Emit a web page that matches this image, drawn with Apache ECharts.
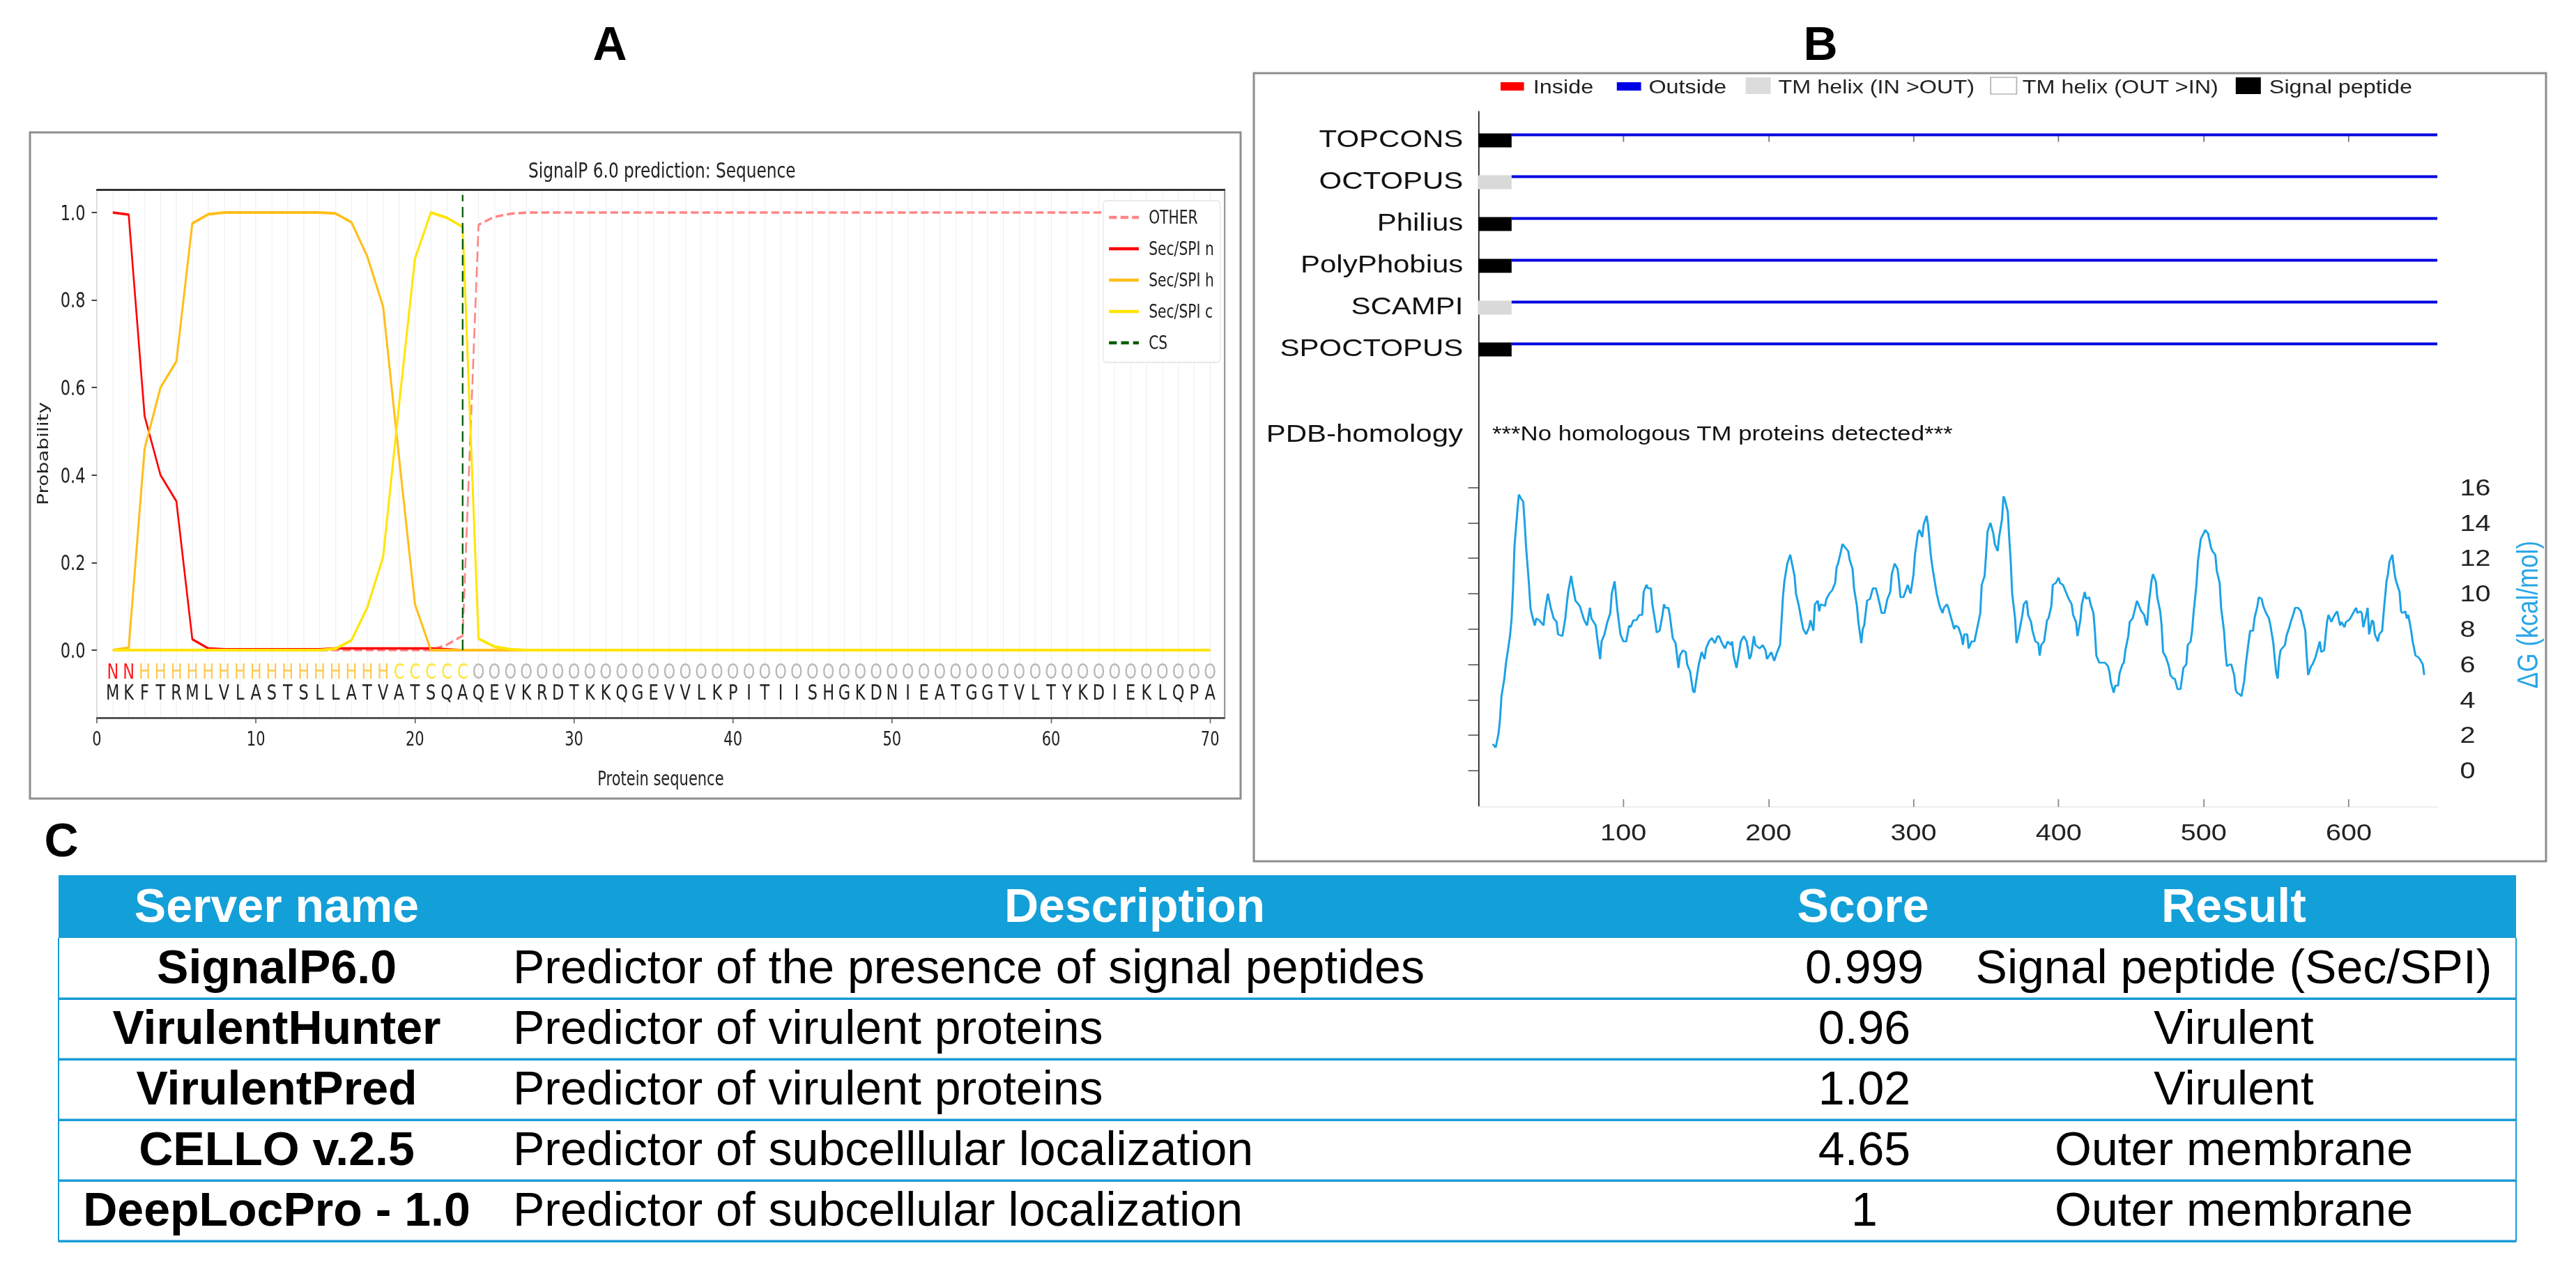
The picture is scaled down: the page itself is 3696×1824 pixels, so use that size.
<!DOCTYPE html>
<html>
<head>
<meta charset="utf-8">
<script src="https://cdn.jsdelivr.net/npm/echarts/dist/echarts.min.js"></script>
<style>
  html, body { margin: 0; padding: 0; background: #ffffff; }
  #main { position: absolute; left: 0; top: 0; width: 3696px; height: 1824px; }
  #pa { position: absolute; left: 43px; top: 190px; width: 2316px; height: 956px; transform: scale(0.75, 1); transform-origin: 0 0; }
  #pb { position: absolute; left: 1799px; top: 105px; width: 1545px; height: 1131px; transform: scale(1.2, 1); transform-origin: 0 0; }
</style>
</head>
<body>
<div id="main"></div>
<div id="pa"></div>
<div id="pb"></div>
<script>
// ---------------- DATA : panel A (SignalP 6.0) ----------------
const positions = [1,2,3,4,5,6,7,8,9,10,11,12,13,14,15,16,17,18,19,20,21,22,23,24,25,26,27,28,29,30,31,32,33,34,35,36,37,38,39,40,41,42,43,44,45,46,47,48,49,50,51,52,53,54,55,56,57,58,59,60,61,62,63,64,65,66,67,68,69,70];
const probOther = [0,0,0,0,0,0,0,0,0,0,0,0,0,0,0,0,0,0,0,0,0,0.012,0.033,0.972,0.99,0.997,1,1,1,1,1,1,1,1,1,1,1,1,1,1,1,1,1,1,1,1,1,1,1,1,1,1,1,1,1,1,1,1,1,1,1,1,1,1,1,1,1,1,1,1];
const probSecN  = [1.0,0.995,0.535,0.40,0.34,0.025,0.004,0.002,0.002,0.002,0.002,0.002,0.002,0.002,0.004,0.004,0.004,0.004,0.004,0.004,0.004,0.002,0,0,0,0,0,0,0,0,0,0,0,0,0,0,0,0,0,0,0,0,0,0,0,0,0,0,0,0,0,0,0,0,0,0,0,0,0,0,0,0,0,0,0,0,0,0,0,0];
const probSecH  = [0,0.005,0.46,0.60,0.66,0.975,0.996,1,1,1,1,1,1,1,0.998,0.978,0.90,0.785,0.44,0.105,0,0,0,0,0,0,0,0,0,0,0,0,0,0,0,0,0,0,0,0,0,0,0,0,0,0,0,0,0,0,0,0,0,0,0,0,0,0,0,0,0,0,0,0,0,0,0,0,0,0];
const probSecC  = [0,0,0,0,0,0,0,0,0,0,0,0,0,0,0.003,0.022,0.097,0.213,0.56,0.894,1.0,0.988,0.967,0.026,0.008,0.002,0,0,0,0,0,0,0,0,0,0,0,0,0,0,0,0,0,0,0,0,0,0,0,0,0,0,0,0,0,0,0,0,0,0,0,0,0,0,0,0,0,0,0,0];
const cleavageSite = 23;
const annotation = "NNHHHHHHHHHHHHHHHHCCCCCOOOOOOOOOOOOOOOOOOOOOOOOOOOOOOOOOOOOOOOOOOOOOOO";
const sequence   = "MKFTRMLVLASTSLLATVATSQAQEVKRDTKKQGEVVLKPITIISHGKDNIEATGGTVLTYKDIEKLQPA";
const seqTicks = [0,10,20,30,40,50,60,70];
const probTicks = [0,0.2,0.4,0.6,0.8,1.0];
const seriesNamesA = ['OTHER','Sec/SPI n','Sec/SPI h','Sec/SPI c','CS'];

// ---------------- DATA : panel B (TOPCONS) ----------------
const methods = ['TOPCONS','OCTOPUS','Philius','PolyPhobius','SCAMPI','SPOCTOPUS'];
const nTermFeature = ['signal','tmInOut','signal','signal','tmInOut','signal'];
const nTermEnd = [23,23,23,23,23,23];
const proteinLength = 661;
const residueTicks = [100,200,300,400,500,600];
const dgTicks = [0,2,4,6,8,10,12,14,16];
const legendB = ['Inside','Outside','TM helix (IN >OUT)','TM helix (OUT >IN)','Signal peptide'];
const dgProfile = [[10,1.5],[12,1.3],[14,2.1],[15,2.9],[16,4.2],[18,5.2],[19,6.0],[21,7.1],[22,7.7],[23,8.6],[24,10.3],[25,12.7],[27,14.7],[28,15.6],[30,15.3],[31,15.2],[32,14.0],[33,12.6],[35,10.5],[36,9.2],[37,8.8],[39,8.2],[40,8.6],[42,8.5],[45,8.2],[46,9.0],[48,10.0],[50,9.2],[52,8.6],[54,8.4],[55,7.7],[58,7.6],[60,8.6],[61,9.4],[62,10.1],[64,11.0],[65,10.5],[67,9.6],[70,9.3],[73,8.5],[75,8.2],[77,9.2],[78,8.6],[81,8.2],[82,7.5],[84,6.3],[85,7.3],[87,7.7],[89,8.4],[91,8.9],[92,10.0],[94,10.7],[96,9.0],[98,7.7],[100,7.3],[102,7.3],[104,8.2],[105,8.1],[107,8.5],[109,8.5],[111,8.8],[113,8.8],[114,10.1],[116,10.5],[117,10.3],[119,10.3],[120,9.4],[122,8.4],[123,7.8],[125,7.9],[127,8.8],[128,9.4],[129,9.2],[131,9.2],[132,8.8],[134,7.5],[136,7.2],[138,5.8],[139,6.5],[141,6.8],[143,6.7],[144,6.0],[146,5.6],[148,4.5],[149,4.4],[151,5.5],[152,6.0],[154,6.7],[156,6.3],[157,6.9],[159,7.3],[161,7.5],[163,7.2],[165,7.6],[166,7.6],[168,7.2],[170,6.9],[172,7.3],[174,7.1],[175,7.3],[176,6.5],[178,5.8],[179,6.3],[181,7.3],[183,7.6],[185,7.3],[187,6.3],[188,6.5],[190,7.6],[191,7.1],[194,6.9],[196,7.1],[198,6.8],[199,6.3],[202,6.7],[204,6.2],[206,6.7],[208,7.1],[209,8.4],[210,9.8],[211,10.7],[213,11.7],[215,12.2],[216,11.8],[218,11.0],[219,10.0],[221,9.3],[223,8.4],[224,8.0],[226,7.7],[228,8.1],[229,8.5],[231,7.9],[232,9.4],[234,9.6],[235,9.0],[236,9.4],[239,9.3],[240,9.7],[242,10.0],[244,10.2],[246,10.6],[247,11.5],[248,11.7],[250,12.4],[251,12.8],[253,12.6],[255,12.4],[256,11.9],[258,11.4],[259,10.3],[261,9.3],[262,8.4],[264,7.2],[265,8.0],[266,8.2],[268,9.6],[270,9.7],[272,10.3],[274,10.3],[275,10.0],[277,9.3],[278,8.9],[280,8.9],[282,9.7],[284,10.1],[285,11.1],[287,11.7],[289,11.4],[290,10.7],[291,9.8],[293,9.8],[294,10.0],[296,10.5],[298,10.0],[300,11.1],[301,12.2],[303,13.4],[304,13.6],[306,13.2],[307,13.9],[309,14.4],[310,13.9],[312,12.1],[313,11.5],[315,10.5],[316,10.0],[318,9.3],[320,8.9],[321,9.2],[323,9.4],[324,9.2],[326,8.6],[328,8.0],[329,8.2],[331,8.1],[333,7.6],[334,7.1],[335,7.7],[337,7.7],[338,6.9],[340,7.3],[342,7.3],[344,8.1],[346,8.9],[347,10.5],[349,11.0],[350,12.2],[351,13.5],[353,14.0],[355,13.4],[356,12.8],[358,12.4],[359,13.2],[361,14.2],[362,15.5],[363,15.3],[365,14.6],[366,13.1],[367,11.8],[368,10.0],[370,8.6],[371,7.2],[372,7.5],[373,7.9],[375,8.8],[376,9.4],[378,9.6],[379,8.8],[381,8.4],[382,7.9],[384,7.3],[386,7.2],[387,6.5],[388,7.1],[390,7.3],[392,8.5],[393,8.6],[395,9.3],[396,10.5],[398,10.6],[400,10.9],[401,10.6],[403,10.5],[405,10.1],[407,9.7],[409,9.4],[410,8.8],[412,8.4],[413,7.6],[415,8.5],[416,9.4],[418,10.1],[419,9.7],[421,9.8],[422,9.4],[424,8.9],[425,7.9],[426,6.5],[428,6.1],[430,6.1],[432,6.1],[434,5.9],[435,5.6],[436,5.0],[438,4.4],[439,4.8],[441,4.8],[442,5.5],[444,6.0],[445,6.1],[446,6.8],[448,7.6],[449,8.4],[451,8.6],[452,8.9],[454,9.6],[455,9.4],[457,9.0],[459,8.8],[460,8.4],[461,8.2],[462,9.3],[464,10.7],[465,11.1],[467,10.7],[468,9.8],[470,9.0],[471,8.2],[472,6.7],[474,6.4],[476,5.9],[477,5.4],[479,5.2],[480,5.2],[482,4.6],[484,4.6],[485,5.2],[486,5.8],[488,6.0],[489,7.1],[491,7.3],[492,7.9],[493,8.9],[495,10.5],[496,11.8],[498,13.1],[500,13.4],[501,13.6],[503,13.4],[505,12.6],[506,12.4],[508,12.2],[509,11.3],[511,10.6],[512,9.2],[514,7.9],[515,6.7],[516,5.9],[518,6.0],[519,6.0],[521,5.4],[522,4.6],[523,4.4],[525,4.3],[526,4.2],[528,5.1],[529,6.0],[531,7.3],[532,7.9],[534,7.9],[535,8.6],[537,9.3],[538,9.8],[540,9.7],[541,9.3],[543,8.9],[545,8.6],[546,8.2],[548,7.2],[549,6.3],[550,5.5],[551,5.2],[552,6.3],[553,6.8],[554,6.9],[556,7.1],[557,7.6],[559,8.1],[560,8.4],[562,8.9],[563,9.2],[565,9.2],[567,9.0],[568,8.6],[570,7.9],[571,6.5],[572,5.4],[574,5.9],[575,6.0],[577,6.4],[578,6.7],[580,7.3],[581,6.7],[583,6.8],[584,7.6],[585,8.4],[586,8.8],[588,8.4],[589,8.6],[591,8.9],[592,9.0],[594,8.2],[595,8.4],[597,8.1],[598,8.4],[600,8.5],[601,8.6],[603,8.9],[605,9.2],[606,8.9],[608,9.0],[609,8.9],[610,8.1],[612,8.8],[613,9.2],[614,7.7],[616,8.5],[617,8.4],[618,7.7],[620,7.3],[621,7.7],[623,7.9],[624,8.9],[626,10.7],[627,11.1],[628,11.8],[630,12.2],[631,11.5],[632,10.9],[633,10.6],[635,10.1],[636,9.0],[637,8.9],[639,9.0],[640,8.6],[641,8.8],[643,7.9],[644,7.3],[646,6.5],[648,6.4],[649,6.3],[651,6.0],[652,5.4]];

// ---------------- DATA : panel C (table) ----------------
const tableHeaders = ['Server name','Description','Score','Result'];
const serverNames = ['SignalP6.0','VirulentHunter','VirulentPred','CELLO v.2.5','DeepLocPro - 1.0'];
const descriptions = ['Predictor of the presence of signal peptides','Predictor of virulent proteins','Predictor of virulent proteins','Predictor of subcelllular localization','Predictor of subcellular localization'];
const scores = ['0.999','0.96','1.02','4.65','1'];
const results = ['Signal peptide (Sec/SPI)','Virulent','Virulent','Outer membrane','Outer membrane'];

// =================================================================
const FA = 'DejaVu Sans';
const FB = 'Liberation Sans, Arial, sans-serif';

// ---------------- Panel A chart ----------------
const pairs = arr => positions.map((p, i) => [p, arr[i]]);
const annotColor = { N: '#ff1a1a', H: '#ffc94d', C: '#ffe433', O: '#b8b8b8' };
const annotY = -0.048, seqY = -0.096;

const chartA = echarts.init(document.getElementById('pa'), null, { renderer: 'svg' });
chartA.setOption({
  animation: false,
  grid: { left: 128, top: 82, width: 2157, height: 758 },
  legend: {
    orient: 'vertical', left: 2053, top: 98,
    padding: [9, 12, 13, 9], itemGap: 15, itemWidth: 57, itemHeight: 14,
    backgroundColor: '#ffffff', borderColor: '#e2e2e2', borderWidth: 1.5, borderRadius: 6,
    itemStyle: { opacity: 0 },
    lineStyle: { width: 4.5 },
    textStyle: { fontFamily: FA, fontSize: 27, color: '#222', lineHeight: 30, padding: [0, 0, 0, 14] },
    data: seriesNamesA
  },
  xAxis: [
    { type: 'value', min: 0, max: 70.9, interval: 10,
      axisLine: { show: true, onZero: false, lineStyle: { color: '#555', width: 3 } },
      axisTick: { show: true, length: 8, customValues: seqTicks, lineStyle: { color: '#555', width: 2 } },
      axisLabel: { customValues: seqTicks, fontFamily: FA, fontSize: 28, color: '#222', margin: 16 },
      splitLine: { show: false },
      name: 'Protein sequence', nameLocation: 'middle', nameGap: 73,
      nameTextStyle: { fontFamily: FA, fontSize: 28, color: '#222' } },
    { type: 'value', position: 'top', min: 0, max: 70.9, interval: 1,
      axisLine: { show: true, onZero: false, lineStyle: { color: '#333', width: 3 } },
      axisTick: { show: false }, axisLabel: { show: false },
      splitLine: { show: true, lineStyle: { color: '#efefef', width: 1.5 } } }
  ],
  yAxis: [
    { type: 'value', min: -0.1545, max: 1.0525,
      axisLine: { show: true, onZero: false, lineStyle: { color: '#d6d6d6', width: 2 } },
      axisTick: { show: true, length: 10, customValues: probTicks, lineStyle: { color: '#444', width: 2 } },
      axisLabel: { customValues: probTicks, formatter: v => v.toFixed(1), fontFamily: FA, fontSize: 30, color: '#222', margin: 22 },
      splitLine: { show: false },
      name: 'Probability', nameLocation: 'middle', nameGap: 89, nameRotate: 90,
      nameTextStyle: { fontFamily: FA, fontSize: 28, color: '#222' } },
    { type: 'value', position: 'right', min: -0.1545, max: 1.0525,
      axisLine: { show: true, onZero: false, lineStyle: { color: '#999', width: 3 } },
      axisTick: { show: false }, axisLabel: { show: false }, splitLine: { show: false } }
  ],
  graphic: [
    { type: 'text', x: 1209, y: 54, style: { text: 'SignalP 6.0 prediction: Sequence', fontFamily: FA, fontSize: 31, fill: '#222', align: 'center', verticalAlign: 'middle' } }
  ],
  series: [
    { name: 'OTHER', type: 'line', symbol: 'none', data: pairs(probOther), z: 2,
      lineStyle: { color: '#ff8585', width: 3.5, type: [15, 7] }, itemStyle: { color: '#ff8585' } },
    { name: 'Sec/SPI n', type: 'line', symbol: 'none', data: pairs(probSecN), z: 3,
      lineStyle: { color: '#ff0000', width: 3.5 }, itemStyle: { color: '#ff0000' } },
    { name: 'Sec/SPI h', type: 'line', symbol: 'none', data: pairs(probSecH), z: 4,
      lineStyle: { color: '#ffbf1a', width: 4 }, itemStyle: { color: '#ffbf1a' } },
    { name: 'Sec/SPI c', type: 'line', symbol: 'none', data: pairs(probSecC), z: 5,
      lineStyle: { color: '#ffe500', width: 4 }, itemStyle: { color: '#ffe500' } },
    { name: 'CS', type: 'line', symbol: 'none', data: [[cleavageSite, 0], [cleavageSite, 1.04]], z: 6,
      lineStyle: { color: '#005c00', width: 3, type: [15, 8] }, itemStyle: { color: '#005c00' } },
    { name: 'letters', type: 'custom', z: 7, data: positions.map(p => [p]),
      renderItem: (params, api) => {
        const p = api.value(0);
        const i = params.dataIndex;
        const a = api.coord([p, annotY]);
        const s = api.coord([p, seqY]);
        return { type: 'group', children: [
          { type: 'text', x: a[0], y: a[1], style: { text: annotation[i], fill: annotColor[annotation[i]], fontFamily: FA, fontSize: 30, align: 'center', verticalAlign: 'middle' } },
          { type: 'text', x: s[0], y: s[1], style: { text: sequence[i], fill: '#222', fontFamily: FA, fontSize: 30, align: 'center', verticalAlign: 'middle' } }
        ] };
      } }
  ]
});

// ---------------- Panel B chart ----------------
const featureFill = { signal: '#000000', tmInOut: '#d9d9d9' };
const chartB = echarts.init(document.getElementById('pb'), null, { renderer: 'svg' });
const legendSwatches = [
  { x: 295, y: 13, w: 28, h: 12, fill: '#ff0000', stroke: null, tx: 334 },
  { x: 434, y: 13, w: 29, h: 12, fill: '#0000e6', stroke: null, tx: 472 },
  { x: 588, y: 6, w: 30, h: 24, fill: '#dcdcdc', stroke: null, tx: 627 },
  { x: 881, y: 6, w: 31, h: 24, fill: '#ffffff', stroke: '#b5b5b5', tx: 919 },
  { x: 1174, y: 6, w: 30, h: 24, fill: '#000000', stroke: null, tx: 1214 }
];
const graphicB = [];
legendSwatches.forEach((s, i) => {
  graphicB.push({ type: 'rect', shape: { x: s.x, y: s.y, width: s.w, height: s.h },
    style: { fill: s.fill, stroke: s.stroke || null, lineWidth: 1.5 } });
  graphicB.push({ type: 'text', x: s.tx, y: 19, style: { text: legendB[i], fontFamily: FB, fontSize: 27, fill: '#222', align: 'left', verticalAlign: 'middle' } });
});
graphicB.push({ type: 'text', x: 250, y: 517, style: { text: 'PDB-homology', fontFamily: FB, fontSize: 35, fill: '#111', align: 'right', verticalAlign: 'middle' } });
graphicB.push({ type: 'text', x: 285, y: 517, style: { text: '***No homologous TM proteins detected***', fontFamily: FB, fontSize: 29, fill: '#111', align: 'left', verticalAlign: 'middle' } });
graphicB.push({ type: 'text', x: 1523, y: 777, rotation: Math.PI / 2, style: { text: 'ΔG (kcal/mol)', fontFamily: FB, fontSize: 35, fill: '#2aa6e6', align: 'center', verticalAlign: 'middle' } });

chartB.setOption({
  animation: false,
  grid: { left: 268.3, top: 55, width: 1146.7, height: 998 },
  xAxis: [
    { type: 'value', min: 0, max: proteinLength,
      axisLine: { show: true, onZero: false, lineStyle: { color: '#eeeeee', width: 2 } },
      axisTick: { show: true, inside: true, length: 11, customValues: residueTicks, lineStyle: { color: '#888', width: 1.5 } },
      axisLabel: { customValues: residueTicks, fontFamily: FB, fontSize: 33, color: '#222', margin: 20 },
      splitLine: { show: false } },
    { type: 'value', position: 'top', min: 0, max: proteinLength,
      axisLine: { show: false },
      axisTick: { show: true, inside: true, length: 10, customValues: residueTicks, lineStyle: { color: '#777', width: 1.5 } },
      axisLabel: { show: false }, splitLine: { show: false } }
  ],
  yAxis: [
    { type: 'value', inverse: true, min: -0.56, max: 16.073,
      axisLine: { show: true, onZero: false, lineStyle: { color: '#222', width: 1.5 } },
      axisTick: { show: false }, axisLabel: { show: false }, splitLine: { show: false } },
    { type: 'value', position: 'right', min: -2.05, max: 37.24,
      axisLine: { show: false },
      axisTick: { show: true, inside: true, length: 12, customValues: dgTicks, lineStyle: { color: '#777', width: 2 } },
      axisLabel: { customValues: dgTicks, fontFamily: FB, fontSize: 33, color: '#222', margin: 27 },
      splitLine: { show: false } }
  ],
  graphic: graphicB,
  series: [
    { type: 'custom', xAxisIndex: 0, yAxisIndex: 0, z: 3,
      data: methods.map((m, i) => [i]),
      renderItem: (params, api) => {
        const i = api.value(0);
        const start = api.coord([0, i]);
        const sp = api.coord([nTermEnd[i], i]);
        const end = api.coord([proteinLength, i]);
        const y = start[1];
        return { type: 'group', children: [
          { type: 'rect', shape: { x: start[0], y: y - 2, width: sp[0] - start[0], height: 20 }, style: { fill: featureFill[nTermFeature[i]] } },
          { type: 'rect', shape: { x: sp[0], y: y - 2, width: end[0] - sp[0], height: 4 }, style: { fill: '#0000e0' } },
          { type: 'text', x: start[0] - 18, y: y + 5, style: { text: methods[i], fontFamily: FB, fontSize: 35, fill: '#111', align: 'right', verticalAlign: 'middle' } }
        ] };
      } },
    { type: 'line', xAxisIndex: 0, yAxisIndex: 1, symbol: 'none', z: 4, data: dgProfile,
      lineStyle: { color: '#1ca2e6', width: 2.5 } }
  ]
});

// ---------------- Main chart: table + panel labels + frames ----------------
const chartM = echarts.init(document.getElementById('main'), null, { renderer: 'canvas' });
const tableLeft = 84, tableWidth = 3526;
const colServer = 313, colDesc = 652, colScore = 2591, colResult = 3121;
const headerAnchors = [313, 1544, 2589, 3121];
const blue = '#139fd8';
const graphicM = [
  { type: 'rect', shape: { x: 43, y: 190, width: 1737, height: 956 }, style: { fill: 'none', stroke: '#8e8e8e', lineWidth: 3 } },
  { type: 'rect', shape: { x: 1799, y: 105, width: 1854, height: 1131 }, style: { fill: 'none', stroke: '#8e8e8e', lineWidth: 3 } },
  { type: 'text', x: 875, y: 67, style: { text: 'A', fontFamily: FB, fontWeight: 'bold', fontSize: 68, fill: '#000', align: 'center', verticalAlign: 'middle' } },
  { type: 'text', x: 2612, y: 67, style: { text: 'B', fontFamily: FB, fontWeight: 'bold', fontSize: 68, fill: '#000', align: 'center', verticalAlign: 'middle' } },
  { type: 'text', x: 88, y: 1210, style: { text: 'C', fontFamily: FB, fontWeight: 'bold', fontSize: 68, fill: '#000', align: 'center', verticalAlign: 'middle' } },
  { type: 'rect', shape: { x: tableLeft, y: 1256, width: tableWidth, height: 90 }, style: { fill: blue } },
  { type: 'rect', shape: { x: tableLeft - 1, y: 1346, width: 2, height: 436 }, style: { fill: blue } },
  { type: 'rect', shape: { x: tableLeft + tableWidth - 1, y: 1346, width: 2, height: 436 }, style: { fill: blue } }
];
tableHeaders.forEach((h, i) => {
  graphicM.push({ type: 'text', x: tableLeft + headerAnchors[i], y: 1304, style: { text: h, fontFamily: FB, fontWeight: 'bold', fontSize: 68, fill: '#ffffff', align: 'center', verticalAlign: 'middle' } });
});

chartM.setOption({
  animation: false,
  grid: { left: tableLeft, top: 1346, width: tableWidth, height: 435 },
  xAxis: { type: 'value', min: 0, max: tableWidth, show: false },
  yAxis: { type: 'category', data: serverNames, inverse: true, show: false },
  graphic: graphicM,
  series: [{
    type: 'custom', data: serverNames.map((s, i) => [0, i]),
    renderItem: (params, api) => {
      const i = api.value(1);
      const c = api.coord([0, i]);
      const band = api.size([0, 1])[1];
      const y = c[1] + 3;
      const X = v => api.coord([v, i])[0];
      const txt = (x, t, align, bold) => ({ type: 'text', x: x, y: y,
        style: { text: t, fontFamily: FB, fontWeight: bold ? 'bold' : 'normal', fontSize: 68, fill: '#000', align: align, verticalAlign: 'middle' } });
      return { type: 'group', children: [
        txt(X(colServer), serverNames[i], 'center', true),
        txt(X(colDesc), descriptions[i], 'left', false),
        txt(X(colScore), scores[i], 'center', false),
        txt(X(colResult), results[i], 'center', false),
        { type: 'rect', shape: { x: X(0), y: c[1] + band / 2 - 1.5, width: X(tableWidth) - X(0), height: 3.5 }, style: { fill: '#1a9bd7' } }
      ] };
    }
  }]
});
</script>
</body>
</html>
